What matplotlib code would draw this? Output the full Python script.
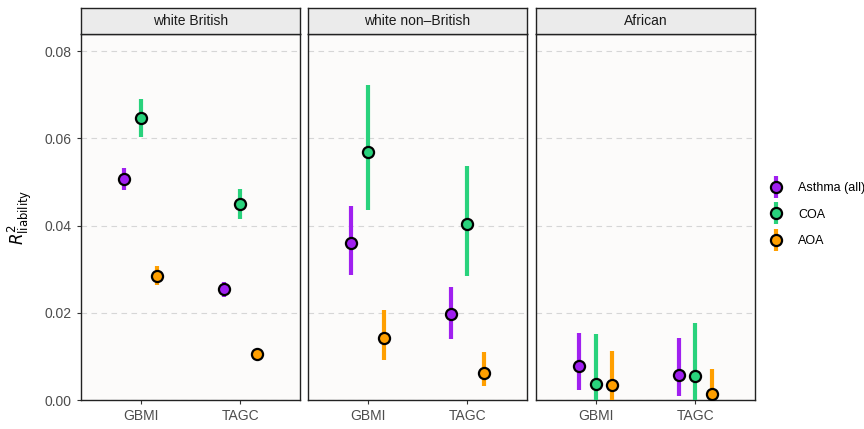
import numpy as np
import matplotlib
matplotlib.use("Agg")
import matplotlib.pyplot as plt
from matplotlib.lines import Line2D

plt.rcParams['font.family'] = ['Liberation Sans', 'DejaVu Sans']

# dados
grupos = ['white British', 'white non\u2013British', 'African']
coortes = ['GBMI', 'TAGC']
fenotipos = ['Asthma (all)', 'COA', 'AOA']
cores = ['#A020F0', '#29D27C', '#FF9F00']

# estimativa, limite inferior, limite superior  [grupo][fenotipo][coorte]
est = [
    [[0.0506, 0.0254], [0.0646, 0.0449], [0.0285, 0.0105]],
    [[0.0361, 0.0196], [0.0569, 0.0403], [0.0142, 0.0063]],
    [[0.0078, 0.0057], [0.0036, 0.0054], [0.0034, 0.0014]],
]
inf = [
    [[0.0481, 0.0237], [0.0602, 0.0414], [0.0264, 0.0093]],
    [[0.0287, 0.0140], [0.0436, 0.0285], [0.0091, 0.0033]],
    [[0.0023, 0.0009], [-0.003, -0.004], [-0.003, -0.003]],
]
sup = [
    [[0.0531, 0.0271], [0.0689, 0.0484], [0.0308, 0.0118]],
    [[0.0445, 0.0258], [0.0721, 0.0536], [0.0206, 0.0111]],
    [[0.0154, 0.0141], [0.0151, 0.0177], [0.0112, 0.0070]],
]

fig = plt.figure(figsize=(8.64, 4.29), dpi=100)
W, H = 864, 429
esquerdas = [81, 308, 536]
largura = 219
topo, base = 34, 400
offsets = [-1/6, 0, 1/6]

for g, nome in enumerate(grupos):
    ax = fig.add_axes([esquerdas[g]/W, 1-base/H, largura/W, (base-topo)/H])
    ax.set_facecolor('#FCFBFA')
    x = np.arange(1, len(coortes)+1)
    for f in range(len(fenotipos)):
        e = np.array(est[g][f])
        lo = np.array(inf[g][f])
        hi = np.array(sup[g][f])
        ax.errorbar(x + offsets[f], e, yerr=[e-lo, hi-e], fmt='o',
                    color=cores[f], ecolor=cores[f], elinewidth=3, capsize=0,
                    markersize=8, markerfacecolor=cores[f], markeredgecolor='black',
                    markeredgewidth=1.6, zorder=3)
    ax.set_xlim(0.4, 2.6)
    ax.set_ylim(0, 0.0839)
    ax.set_xticks(x)
    ax.set_xticklabels(coortes)
    ax.set_yticks([0, 0.02, 0.04, 0.06, 0.08])
    ax.yaxis.grid(True, linestyle=(0, (5, 4)), color='#D6D6D6', linewidth=0.8)
    ax.set_axisbelow(True)
    ax.tick_params(colors='#333333', labelcolor='#4D4D4D', labelsize=10, length=3)
    for s in ax.spines.values():
        s.set_color('#222222')
        s.set_linewidth(1)
    if g == 0:
        ax.set_yticklabels(['0.00', '0.02', '0.04', '0.06', '0.08'])
        ax.set_ylabel(r'$R^2_{\mathrm{liability}}$', fontsize=12, labelpad=8)
    else:
        ax.tick_params(axis='y', left=False, labelleft=False)
    # faixa do titulo
    st = fig.add_axes([esquerdas[g]/W, 1-topo/H, largura/W, 26/H])
    st.set_facecolor('#EBEBEB')
    st.set_xticks([])
    st.set_yticks([])
    for s in st.spines.values():
        s.set_color('#222222')
        s.set_linewidth(1)
    st.text(0.5, 0.5, nome, ha='center', va='center', fontsize=10, color='#1A1A1A',
            transform=st.transAxes)

# legenda: barra vertical + ponto
handles = []
for c in cores:
    barra = Line2D([], [], marker='|', linestyle='none', color=c,
                   markersize=16, markeredgewidth=3)
    ponto = Line2D([], [], marker='o', linestyle='none', markersize=8,
                   markerfacecolor=c, markeredgecolor='black', markeredgewidth=1.6)
    handles.append((barra, ponto))

fig.legend(handles=handles, labels=fenotipos, loc='center left',
           bbox_to_anchor=(757/W, 0.5), frameon=False, fontsize=9,
           handlelength=1.2, handletextpad=1.2, labelspacing=1.15)

fig.savefig('out.png', dpi=100)
